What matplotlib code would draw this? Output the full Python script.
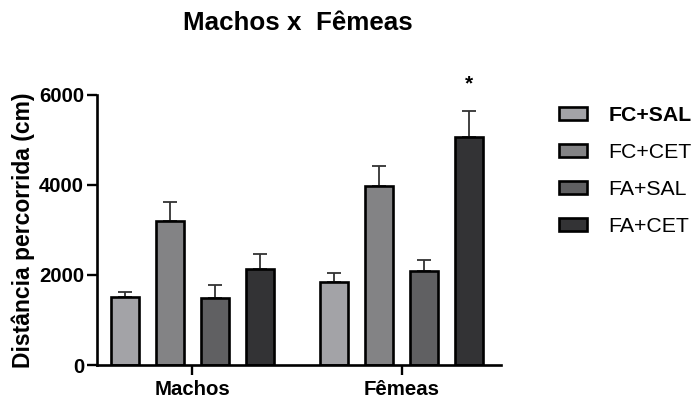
import matplotlib
matplotlib.use("Agg")
import matplotlib.pyplot as plt
import numpy as np

plt.rcParams['font.family'] = ['Liberation Sans', 'DejaVu Sans']

groups = ["Machos", "Fêmeas"]
series = ["FC+SAL", "FC+CET", "FA+SAL", "FA+CET"]
means = {
    "FC+SAL": [1520, 1850],
    "FC+CET": [3190, 3980],
    "FA+SAL": [1490, 2090],
    "FA+CET": [2140, 5060],
}
errors = {
    "FC+SAL": [110, 200],
    "FC+CET": [440, 450],
    "FA+SAL": [280, 245],
    "FA+CET": [320, 585],
}
colors = ["#a3a3a7", "#838385", "#606062", "#333335"]
yticks = [0, 2000, 4000, 6000]

fig = plt.figure(figsize=(6.93, 3.99), dpi=100)
ax = fig.add_axes([0.1395, 0.0852, 0.5835, 0.677])

x = np.arange(len(groups))
step = 0.215
width = 0.134
for i, (name, col) in enumerate(zip(series, colors)):
    pos = x + (i - 1.5) * step
    ax.bar(pos, means[name], width, color=col, edgecolor="black",
           linewidth=1.9, label=name, zorder=2)
    ax.errorbar(pos, means[name], yerr=[np.zeros(len(groups)), errors[name]],
                fmt="none", ecolor="#333333", elinewidth=1.3, capsize=5,
                capthick=1.3, zorder=1)

# significance marker above FA+CET in Fêmeas
ax.text(x[1] + 1.5 * step, means["FA+CET"][1] + errors["FA+CET"][1] + 380, "*",
        ha="center", va="bottom", fontsize=15, fontweight="bold", clip_on=False)

ax.set_xlim(-0.457, 1.474)
ax.set_ylim(0, 6000)
ax.set_yticks(yticks)
ax.set_yticklabels([str(v) for v in yticks], fontsize=14.7, fontweight="bold")
ax.set_xticks(x)
ax.set_xticklabels(groups, fontsize=14.7, fontweight="bold")
ax.set_ylabel("Distância percorrida (cm)", fontsize=16.5, fontweight="bold", labelpad=3)

for s in ["top", "right"]:
    ax.spines[s].set_visible(False)
for s in ["left", "bottom"]:
    ax.spines[s].set_linewidth(1.9)
ax.tick_params(axis="both", direction="out", length=7, width=1.7, pad=2)
ax.tick_params(axis="x", pad=4)

fig.text(0.43, 0.943, "Machos x  Fêmeas", ha="center", va="center",
         fontsize=18.7, fontweight="bold")

leg = ax.legend(loc="upper left", bbox_to_anchor=(1.097, 1.03), frameon=False,
                fontsize=15.3, handlelength=1.3, handleheight=0.55,
                labelspacing=0.85, handletextpad=1.0)
for h in leg.get_patches():
    h.set_linewidth(1.9)
leg.get_texts()[0].set_fontweight("bold")

fig.savefig("out.png", dpi=100)
